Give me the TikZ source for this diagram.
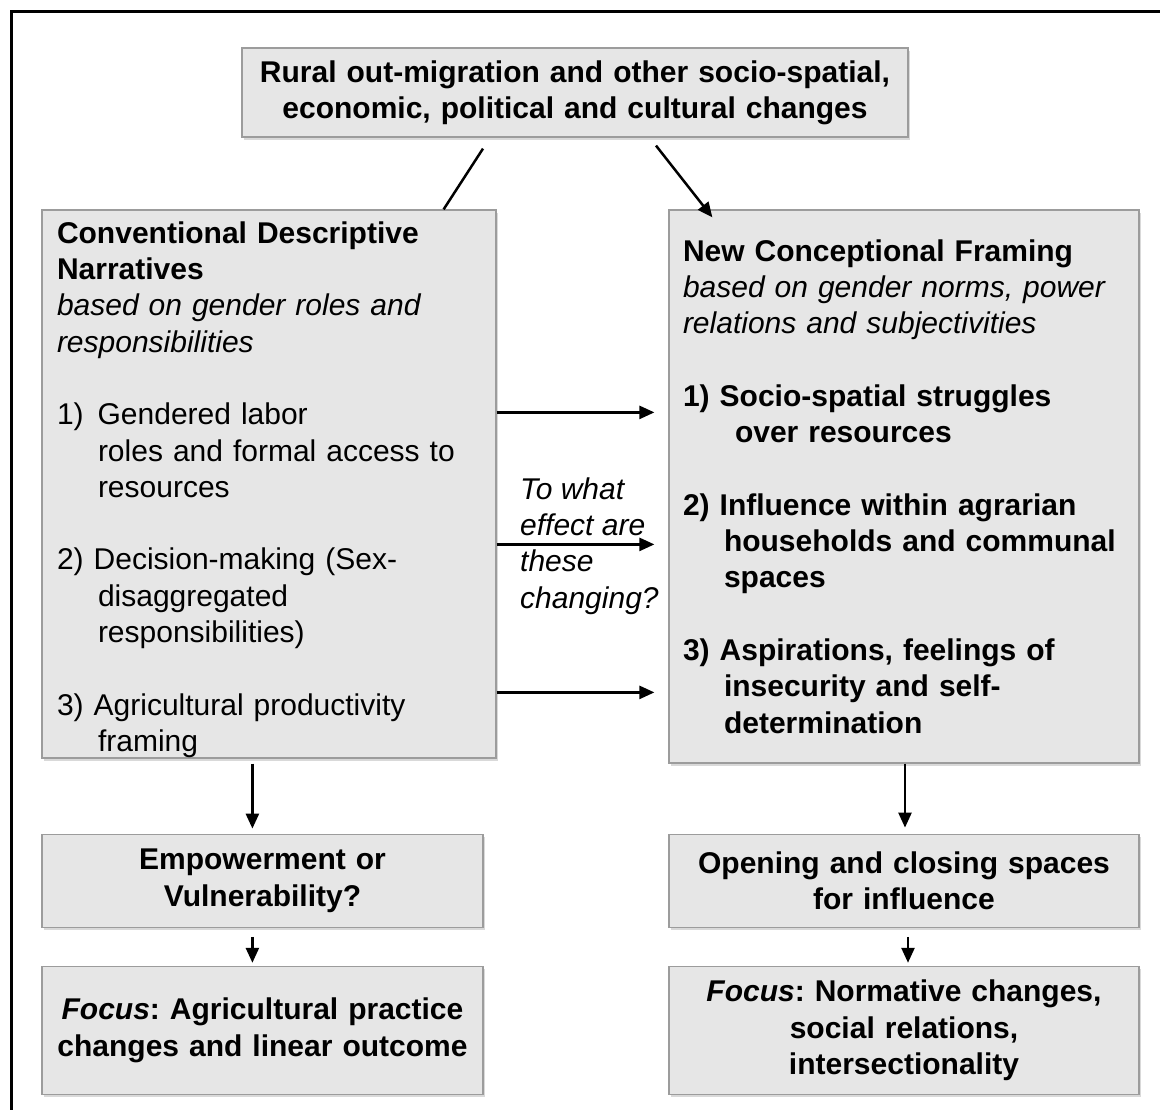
\documentclass[tikz,border=0pt]{standalone}
\usepackage{fontspec}
\setmainfont{Liberation Sans}
\usepackage{xcolor}
\usetikzlibrary{positioning,shadows,arrows.meta}
\frenchspacing

\definecolor{boxfill}{HTML}{E6E6E6}
\definecolor{boxline}{HTML}{9C9C9C}

\begin{document}
\begin{tikzpicture}[x=1pt, y=-1pt,
    block/.style={draw=boxline, fill=boxfill, line width=1.2pt, inner xsep=15pt, inner ysep=0pt, align=center,
        font=\bfseries\fontsize{30}{36.3}\selectfont,
        drop shadow={shadow xshift=2pt, shadow yshift=-3pt, opacity=0.3}},
    bigblock/.style={block, align=left, font=\fontsize{30}{36.3}\selectfont},
    query/.style={inner sep=0pt, align=left, font=\itshape\fontsize{30}{36.3}\selectfont},
    arrow/.style={-{Triangle[length=15pt, width=13pt]}, line width=2.5pt},
    link/.style={line width=2.5pt}
]
\useasboundingbox (0,0) rectangle (1160,1110);
\draw[line width=3pt] (11,1110) -- (11,12) -- (1160,12);

\node[block, minimum width=666pt, minimum height=89pt, text width=636pt] (drivers) at (575,92.5)
    {Rural out-migration and other socio-spatial,\\ economic, political and cultural changes};

\node[bigblock, minimum width=454pt, minimum height=548pt, text width=424pt] (cdn) at (269,484) {%
\rule{0pt}{33pt}\textbf{Conventional Descriptive}\\
\textbf{Narratives}\\
\textit{based on gender roles and}\\
\textit{responsibilities}\\[36.3pt]
1)\hspace{14pt}Gendered labor\\
\hspace*{41pt}roles and formal access to\\
\hspace*{41pt}resources\\[36.3pt]
2) Decision-making (Sex-\\
\hspace*{41pt}disaggregated\\
\hspace*{41pt}responsibilities)\\[36.3pt]
3) Agricultural productivity\\
\hspace*{41pt}framing};

\node[bigblock, inner xsep=14pt, minimum width=470pt, minimum height=553pt, text width=442pt] (ncf) at (904,486.5) {%
\textbf{New Conceptional Framing}\\
\textit{based on gender norms, power}\\
\textit{relations and subjectivities}\\[36.3pt]
\textbf{1) Socio-spatial struggles}\\
\hspace*{52pt}\textbf{over resources}\\[36.3pt]
\textbf{2) Influence within agrarian}\\
\hspace*{41pt}\textbf{households and communal}\\
\hspace*{41pt}\textbf{spaces}\\[36.3pt]
\textbf{3) Aspirations, feelings of}\\
\hspace*{41pt}\textbf{insecurity and self-}\\
\hspace*{41pt}\textbf{determination}};

\node[query, anchor=west] (effect) at (520,546) {To what\\effect are\\these\\changing?};

\node[block, minimum width=441pt, minimum height=93pt, text width=411pt, below=75pt of cdn.south west, anchor=north west] (empower)
    {Empowerment or\\Vulnerability?};
\node[block, minimum width=441pt, minimum height=128pt, text width=411pt, below=38pt of empower] (focusL)
    {\textit{Focus}: Agricultural practice\\changes and linear outcome};

\node[block, minimum width=470pt, minimum height=93pt, text width=440pt, below=70pt of ncf] (spaces)
    {Opening and closing spaces\\for influence};
\node[block, minimum width=470pt, minimum height=128pt, text width=440pt, below=38pt of spaces] (focusR)
    {\textit{Focus}: Normative changes,\\social relations,\\intersectionality};

\draw[link] ([xshift=-92pt, yshift=-11pt]drivers.south) -- ([xshift=-53pt]cdn.north east);
\draw[arrow] ([xshift=81pt, yshift=-8pt]drivers.south) -- ([xshift=44pt, yshift=-8pt]ncf.north west);
\foreach \d in {203,335,483}
    \draw[arrow] ([yshift=-\d pt]cdn.north east) -- ([xshift=-14pt, yshift=-\d pt]ncf.north west);

\draw[arrow] ([xshift=211pt, yshift=-5pt]cdn.south west) -- ([xshift=211pt, yshift=5pt]empower.north west);
\draw[arrow] ([xshift=211pt, yshift=-9pt]empower.south west) -- ([xshift=211pt, yshift=3pt]focusL.north west);
\draw[arrow] ([xshift=1pt]ncf.south) -- ([xshift=1pt, yshift=6pt]spaces.north);
\draw[arrow] ([xshift=4pt, yshift=-9pt]spaces.south) -- ([xshift=4pt, yshift=3pt]focusR.north);
\end{tikzpicture}
\end{document}
